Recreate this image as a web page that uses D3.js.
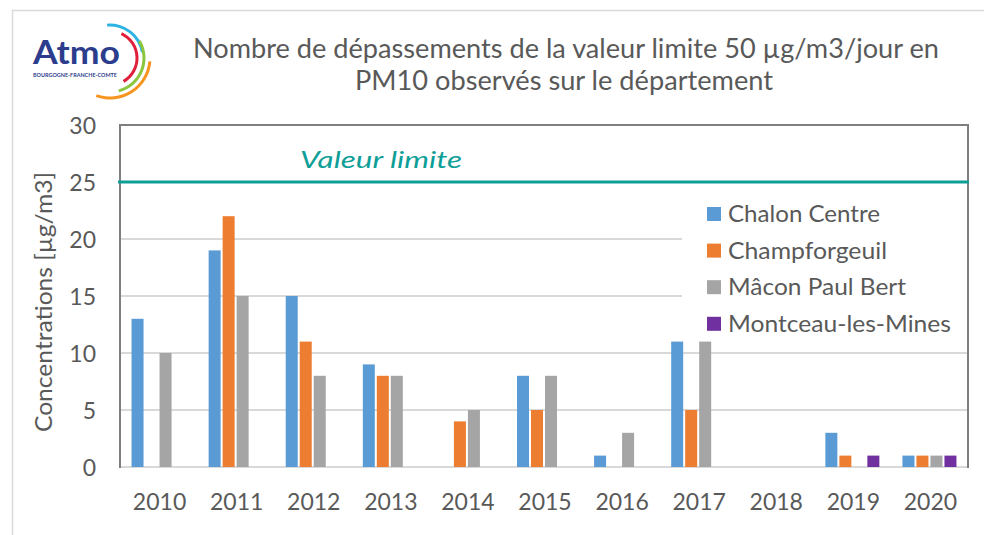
<!DOCTYPE html>
<html><head><meta charset="utf-8">
<script src="https://cdn.jsdelivr.net/npm/d3@7"></script>
<style>
body{margin:0;background:#fff;}
svg{display:block;font-family:Lato,"Open Sans",sans-serif;}
</style></head>
<body>
<svg id="chart" width="984" height="535"></svg>
<script>
const years = ["2010","2011","2012","2013","2014","2015","2016","2017","2018","2019","2020"];
const seriesNames = ["Chalon Centre","Champforgeuil","Mâcon Paul Bert","Montceau-les-Mines"];
const chalonCentre   = [13,19,15,9,null,8,1,11,null,3,1];
const champforgeuil  = [null,22,11,8,4,5,null,5,null,1,1];
const maconPaulBert  = [10,15,8,8,5,8,3,11,null,null,1];
const montceau       = [null,null,null,null,null,null,null,null,null,1,1];
const seriesColors = ["#5B9BD5","#ED7D31","#A5A5A5","#7030A0"];
const yTicks = [0,5,10,15,20,25,30];
const limitValue = 25;
const titleLines = ["Nombre de dépassements de la valeur limite 50 µg/m3/jour en","PM10 observés sur le département"];
const yTitle = "Concentrations [µg/m3]";
const limitLabel = "Valeur limite";

const seriesValues = [chalonCentre, champforgeuil, maconPaulBert, montceau];
const svg = d3.select("#chart");
const textColor = "#595959";

// outer chart border
svg.append("rect").attr("x",12.5).attr("y",10.5).attr("width",1000).attr("height",1000)
  .attr("fill","none").attr("stroke","#d9d9d9").attr("stroke-width",1.5);

const L=120, R=968, T=125, B=467;
const x0 = d3.scaleBand().domain(years).range([L,R]).padding(0);
const groupW = 56;
const x1 = d3.scaleBand().domain(seriesNames).range([0,groupW]).padding(0);
const y = d3.scaleLinear().domain([0,30]).range([B,T]);

// gridlines
const legendLeft = 682;
svg.append("g").selectAll("line").data(yTicks.filter(d=>d>0 && d<30 && d!==25)).join("line")
  .attr("x1",L).attr("x2",d=> (d===15||d===20)? legendLeft : R)
  .attr("y1",d=>y(d)).attr("y2",d=>y(d))
  .attr("stroke","#d9d9d9").attr("stroke-width",2);
// baseline
svg.append("line").attr("x1",L).attr("x2",R).attr("y1",B).attr("y2",B)
  .attr("stroke","#d9d9d9").attr("stroke-width",2);

// bars
const flat = [];
years.forEach((yr,i)=>seriesNames.forEach((s,j)=>{
  const v = seriesValues[j][i];
  if(v!==null && v!==undefined) flat.push({yr,s,v,j});
}));
svg.append("g").selectAll("rect").data(flat).join("rect")
  .attr("x",d=>x0(d.yr)+(x0.bandwidth()-groupW)/2 + x1(d.s)+1)
  .attr("width",x1.bandwidth()-2)
  .attr("y",d=>y(d.v)).attr("height",d=>B-y(d.v))
  .attr("fill",d=>seriesColors[d.j]);

// plot border (left, top, right)
svg.append("path").attr("d",`M${L},${B+1}V${T}H${R}V${B+1}`)
  .attr("fill","none").attr("stroke","#7f7f7f").attr("stroke-width",2);

// limit line
svg.append("line").attr("x1",L-2).attr("x2",R+1).attr("y1",y(limitValue)).attr("y2",y(limitValue))
  .attr("stroke","#0E9E98").attr("stroke-width",3);
svg.append("text").attr("x",300).attr("y",168).text(limitLabel)
  .attr("fill","#0E9E98").attr("font-style","italic").attr("font-size",23)
  .attr("textLength",162).attr("lengthAdjust","spacingAndGlyphs");

// y axis
const yAxis = d3.axisLeft(y).tickValues(yTicks).tickSize(0).tickPadding(0);
const ya = svg.append("g").attr("transform",`translate(96,0)`).call(yAxis);
ya.select(".domain").remove();
ya.selectAll("text").attr("font-size",23).attr("fill",textColor).attr("font-family","Lato,'Open Sans',sans-serif").attr("dy","0.35em");

// x axis
const xAxis = d3.axisBottom(x0).tickSize(0).tickPadding(0);
const xa = svg.append("g").attr("transform",`translate(0,${B})`).call(xAxis);
xa.select(".domain").remove();
xa.selectAll("text").attr("font-size",23).attr("fill",textColor).attr("font-family","Lato,'Open Sans',sans-serif")
  .attr("y",43).attr("dy",0).attr("dx",1);

// y title
svg.append("text").attr("transform","translate(52,302) rotate(-90)").attr("text-anchor","middle")
  .attr("font-size",23).attr("fill",textColor).text(yTitle)
  .attr("textLength",260).attr("lengthAdjust","spacingAndGlyphs");

// title
const titleSpecs = [{x1:193,x2:939,base:58},{x1:355,x2:773,base:90}];
titleLines.forEach((t,i)=>{
  const sp = titleSpecs[i];
  svg.append("text").attr("x",sp.x1).attr("y",sp.base).text(t)
    .attr("font-size",26).attr("fill",textColor)
    .attr("textLength",sp.x2-sp.x1).attr("lengthAdjust","spacingAndGlyphs");
});

// legend
const legendWidths = [152,159,178,223];
const lg = svg.append("g");
lg.append("rect").attr("x",legendLeft).attr("y",190).attr("width",275).attr("height",150).attr("fill","#fff");
seriesNames.forEach((s,i)=>{
  const base = 222 + i*36.6;
  lg.append("rect").attr("x",707).attr("y",base-15).attr("width",14).attr("height",14).attr("fill",seriesColors[i]);
  lg.append("text").attr("x",728).attr("y",base).text(s).attr("font-size",23).attr("fill",textColor)
    .attr("textLength",legendWidths[i]).attr("lengthAdjust","spacingAndGlyphs");
});

// logo
const logo = svg.append("g");
logo.append("text").attr("x",33).attr("y",64).text("Atmo").attr("font-size",32).attr("font-weight","bold")
  .attr("fill","#2B3D8C").attr("textLength",87).attr("lengthAdjust","spacingAndGlyphs");
logo.append("text").attr("x",33).attr("y",77).text("BOURGOGNE-FRANCHE-COMTE").attr("font-size",5).attr("font-weight","bold")
  .attr("fill","#2B3D8C").attr("textLength",84).attr("lengthAdjust","spacingAndGlyphs");
const arc = d3.arc();
const logoArcs = [
  {r:33, a0:-5, a1:80, c:"#2BB3E3"},
  {r:27, a0:25, a1:150, c:"#E0203A"},
  {r:34, a0:60, a1:165, c:"#8CC63F"},
  {r:40, a0:95, a1:200, c:"#F7941D"}
];
logoArcs.forEach(a=>{
  logo.append("path").attr("transform","translate(110,58)")
    .attr("d",arc({innerRadius:a.r-1.5,outerRadius:a.r+1.5,startAngle:a.a0*Math.PI/180,endAngle:a.a1*Math.PI/180}))
    .attr("fill",a.c);
});
</script>
</body></html>
